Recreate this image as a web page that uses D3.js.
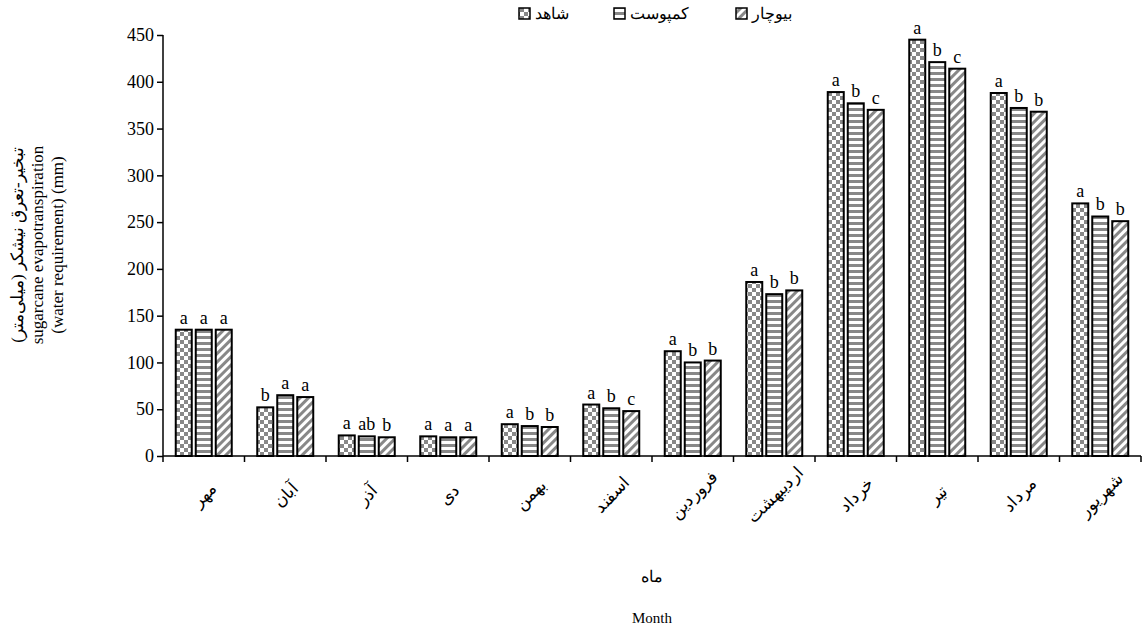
<!DOCTYPE html>
<html><head><meta charset="utf-8">
<script src="https://cdn.jsdelivr.net/npm/d3@7"></script>
<style>body{margin:0;background:#fff}svg text{font-family:"Liberation Serif","Times New Roman",serif !important;fill:#000}</style>
</head><body><svg id="c" width="1142" height="632" font-family="Liberation Serif"></svg>
<script>
// months and treatments
const months = ["مهر","آبان","آذر","دی","بهمن","اسفند","فروردین","اردیبهشت","خرداد","تیر","مرداد","شهریور"];
const series = ["شاهد","کمپوست","بیوچار"];
const control = [135,52,22,21,34,55,112,186,389,445,388,270];
const compost = [135,65,21,20,32,51,100,173,377,421,372,256];
const biochar = [135,63,20,20,31,48,102,177,370,414,368,251];
const letControl = ["a","b","a","a","a","a","a","a","a","a","a","a"];
const letCompost = ["a","a","ab","a","b","b","b","b","b","b","b","b"];
const letBiochar = ["a","a","b","a","b","c","b","b","c","c","b","b"];
const values = [control, compost, biochar];
const letters = [letControl, letCompost, letBiochar];
const yTicks = d3.range(0, 451, 50);

const svg = d3.select("#c");
const defs = svg.append("defs");
// checker
const p0 = defs.append("pattern").attr("id","p0").attr("width",8).attr("height",8).attr("patternUnits","userSpaceOnUse");
p0.append("rect").attr("width",8).attr("height",8).attr("fill","#fff");
p0.append("rect").attr("width",4).attr("height",4).attr("fill","#888");
p0.append("rect").attr("x",4).attr("y",4).attr("width",4).attr("height",4).attr("fill","#888");
// horizontal stripes
const p1 = defs.append("pattern").attr("id","p1").attr("width",6).attr("height",6).attr("patternUnits","userSpaceOnUse");
p1.append("rect").attr("width",6).attr("height",6).attr("fill","#fff");
p1.append("rect").attr("width",6).attr("height",3).attr("fill","#888");
// diagonal
const p2 = defs.append("pattern").attr("id","p2").attr("width",6).attr("height",6).attr("patternUnits","userSpaceOnUse").attr("patternTransform","rotate(45)");
p2.append("rect").attr("width",6).attr("height",6).attr("fill","#fff");
p2.append("rect").attr("width",3).attr("height",6).attr("fill","#888");

const x = d3.scaleBand().domain(months).range([163, 1141]);
const xs = d3.scaleBand().domain([0,1,2]).range([0, 56]).paddingInner(0.2);
const y = d3.scaleLinear().domain([0,450]).range([456, 35]);

const g = svg.append("g");
months.forEach((m, i) => {
  const x0 = x(m) + (x.bandwidth() - 56) / 2;
  values.forEach((s, k) => {
    g.append("rect").attr("x", x0 + xs(k)).attr("y", y(s[i])).attr("width", xs.bandwidth()).attr("height", y(0) - y(s[i]))
      .attr("fill", `url(#p${k})`).attr("stroke","#000").attr("stroke-width",2);
    g.append("text").attr("x", x0 + xs(k) + xs.bandwidth()/2).attr("y", y(s[i]) - 6).attr("text-anchor","middle")
      .attr("font-size",18).text(letters[k][i]);
  });
});

const ya = svg.append("g").attr("transform","translate(163,0)").call(d3.axisLeft(y).tickValues(yTicks).tickSize(6).tickFormat(d3.format("d")));
ya.attr("font-family","Liberation Serif");
ya.selectAll("text").attr("font-size",18);
ya.selectAll("path,line").attr("stroke","#000").attr("stroke-width",1.5);
ya.select(".domain").attr("d","M0,35V456");

const xa = svg.append("g").attr("transform","translate(0,456)");
xa.append("line").attr("x1",163).attr("x2",1141).attr("stroke","#000").attr("stroke-width",1.5);
const edges = months.map(m => x(m)).concat([x.range()[1]]);
xa.selectAll(".t").data(edges).enter().append("line").attr("x1",d=>d).attr("x2",d=>d).attr("y1",0).attr("y2",6).attr("stroke","#000").attr("stroke-width",1.5);
xa.selectAll(".l").data(months).enter().append("text")
  .attr("transform", m => `translate(${x(m)+x.bandwidth()/2+2},${40}) rotate(-45)`)
  .attr("text-anchor","middle").attr("dominant-baseline","middle").attr("font-size",17).text(d=>d);

svg.append("text").attr("x",652).attr("y",582).attr("text-anchor","middle").attr("font-size",16).text("ماه");
svg.append("text").attr("x",652).attr("y",623).attr("text-anchor","middle").attr("font-size",15).text("Month");

const yl = svg.append("text").attr("transform","translate(43,245) rotate(-90)").attr("text-anchor","middle").attr("font-size",17);
yl.append("tspan").attr("x",0).attr("dy",-20).text("تبخیر-تعرق نیشکر (میلی‌متر)");
yl.append("tspan").attr("x",0).attr("dy",20).text("sugarcane evapotranspiration");
yl.append("tspan").attr("x",0).attr("dy",20).text("(water requirement) (mm)");

// legend: box then label
const legX = [519, 614, 736];
series.forEach((s, k) => {
  svg.append("rect").attr("x",legX[k]).attr("y",8).attr("width",11).attr("height",11).attr("fill",`url(#p${k})`).attr("stroke","#000").attr("stroke-width",1.5);
  svg.append("text").attr("x",legX[k]+16).attr("y",19).attr("text-anchor","start").attr("font-size",16).text(s);
});
</script></body></html>
